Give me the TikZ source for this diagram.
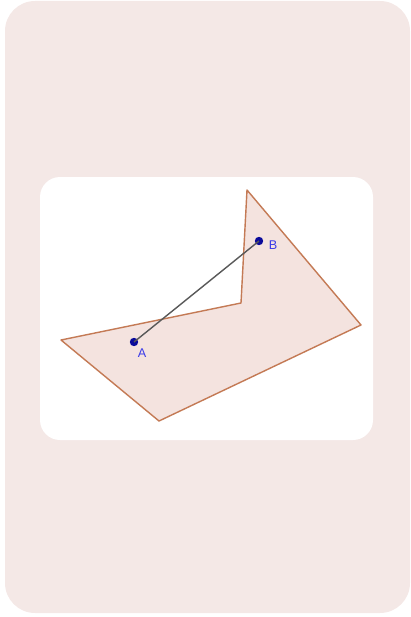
\documentclass[tikz,border=0pt]{standalone}
\usepackage{fontspec}
\setmainfont{Liberation Sans}
\usepackage{xcolor}
\usetikzlibrary{positioning}

\definecolor{cardpink}{HTML}{F4E8E6}
\definecolor{polyfill}{HTML}{F4E3DF}
\definecolor{polyedge}{HTML}{C47A55}
\definecolor{ptblue}{HTML}{0A0A9A}
\definecolor{lblblue}{HTML}{3A3AE8}

\begin{document}
\begin{tikzpicture}[
    x=0.025cm, y=-0.025cm,
    card/.style   = {fill=cardpink, draw=none, rounded corners=0.75cm},
    panel/.style  = {fill=white, draw=none, rounded corners=0.5cm},
    region/.style = {fill=polyfill, draw=polyedge, line width=1pt, line join=round},
    pt/.style     = {circle, fill=ptblue, inner sep=0pt, minimum size=0.21cm},
    seg/.style    = {draw=black!65, line width=1pt},
    lbl/.style    = {font=\fontsize{9}{10}\selectfont, text=lblblue, inner sep=0pt},
  ]
    \useasboundingbox (0,0) rectangle (411,617);

    % --- background card and white panel ---
    \fill[card]  (5,1) rectangle (410,613);
    \fill[panel] (40,177) rectangle (373,440);

    % --- polygon ---
    \coordinate (p1) at (61,340);
    \coordinate (p2) at (241,303);
    \coordinate (p3) at (247,190);
    \coordinate (p4) at (361,325);
    \coordinate (p5) at (159,421);
    \draw[region] (p1) -- (p2) -- (p3) -- (p4) -- (p5) -- cycle;

    % --- points A and B ---
    \node[pt] (a) at (134,342) {};
    \node[pt] (b) at (259,241) {};
    \draw[seg] (a.center) -- (b.center);

    \node[lbl] (la) at (142,353) {A};
    \node[lbl] (lb) at (273,245) {B};
  \end{tikzpicture}
\end{document}
